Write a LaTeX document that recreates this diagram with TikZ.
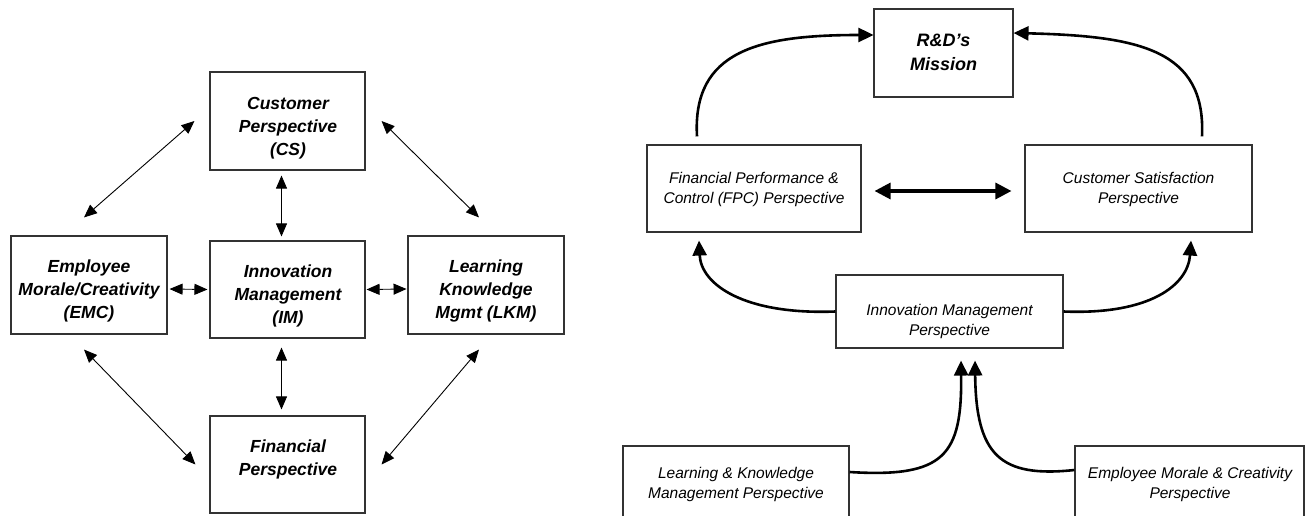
\documentclass[tikz,border=0pt]{standalone}
\usepackage{fontspec}
\setmainfont{Liberation Sans}
\usetikzlibrary{arrows.meta,calc}
\begin{document}
\begin{tikzpicture}[x=1pt,y=-1pt,
  box/.style={draw=black!80, line width=1.1pt, inner sep=0pt},
  ltxt/.style={font=\bfseries\itshape\fontsize{17.5}{23}\selectfont, align=center, inner sep=0pt, anchor=north},
  rtxt/.style={font=\itshape\fontsize{15.5}{20}\selectfont, align=center, inner sep=0pt, anchor=north},
  mtxt/.style={font=\bfseries\itshape\fontsize{18}{24}\selectfont, align=center, inner sep=0pt, anchor=north},
  larr/.style={line width=0.9pt, {Triangle[length=13pt,width=11pt]}-{Triangle[length=13pt,width=11pt]}},
  rarr/.style={line width=2.6pt, -{Triangle[length=15pt,width=14pt]}},
  rdbl/.style={line width=3.2pt, {Triangle[length=16pt,width=16pt]}-{Triangle[length=16pt,width=16pt]}},
]
\useasboundingbox (0,0) rectangle (1308,516);

% ---------- left diagram ----------
\node[box, minimum width=155pt, minimum height=98pt] (cs)  at (287.5,121) {};
\node[box, minimum width=156pt, minimum height=98pt] (emc) at (89,285) {};
\node[box, minimum width=155pt, minimum height=97pt] (im)  at (287.5,289.5) {};
\node[box, minimum width=156pt, minimum height=98pt] (lkm) at (486,285) {};
\node[box, minimum width=155pt, minimum height=97pt] (fin) at (287.5,464.5) {};

\node[ltxt] (cst)  at (288,97)  {Customer\\Perspective\\(CS)};
\node[ltxt] (emct) at (89,260)  {Employee\\Morale/Creativity\\(EMC)};
\node[ltxt] (imt)  at (288,265) {Innovation\\Management\\(IM)};
\node[ltxt] (lkmt) at (486,260) {Learning\\Knowledge\\Mgmt (LKM)};
\node[ltxt] (fint) at (288,440) {Financial\\Perspective};

\draw[larr] ($(cs.south)+(-6,5)$) -- ($(im.north)+(-6,-4)$);
\draw[larr] ($(im.south)+(-6,9)$) -- ($(fin.north)+(-6,-6)$);
\draw[larr] ($(emc.east)+(2,4)$) -- ($(im.west)+(-2,0)$);
\draw[larr] ($(im.east)+(1,0)$) -- ($(lkm.east)+(-158,4)$);
\draw[larr] ($(cs.west)+(-15,0)$) -- ($(emc.north)+(-5,-18)$);
\draw[larr] ($(cs.east)+(16,0)$) -- ($(lkm.north)+(-7,-18)$);
\draw[larr] ($(emc.south)+(-5,15)$) -- ($(fin.west)+(-14,0)$);
\draw[larr] ($(lkm.south)+(-7,15)$) -- ($(fin.east)+(16,0)$);

% ---------- right diagram ----------
\node[box, minimum width=139pt, minimum height=88pt] (rd)   at (943.5,53) {};
\node[box, minimum width=214pt, minimum height=87pt] (fpc)  at (754,188.5) {};
\node[box, minimum width=227pt, minimum height=87pt] (csp)  at (1138.5,188.5) {};
\node[box, minimum width=227pt, minimum height=73pt] (imp)  at (949.5,311.5) {};
\node[box, minimum width=226pt, minimum height=84pt] (lkmb) at (736,488) {};
\node[box, minimum width=229pt, minimum height=84pt] (emcb) at (1189.5,488) {};

\node[mtxt] (rdt)   at (943.5,34) {R\&D’s\\Mission};
\node[rtxt] (fpct)  at (754,172)  {Financial Performance \&\\Control (FPC) Perspective};
\node[rtxt] (cspt)  at (1138.5,172) {Customer Satisfaction\\Perspective};
\node[rtxt] (impt)  at (949.5,304) {Innovation Management\\Perspective};
\node[rtxt] (lkmbt) at (736,467)  {Learning \& Knowledge\\Management Perspective};
\node[rtxt] (emcbt) at (1190,467) {Employee Morale \& Creativity\\Perspective};

\coordinate (f1) at ($(fpc.north)+(-57,-8)$);
\coordinate (c1) at ($(csp.north)+(63.5,-8)$);
\coordinate (f2) at ($(fpc.south)+(-55,8)$);
\coordinate (c2) at ($(csp.south)+(52.5,8)$);
\coordinate (i1) at ($(imp.south)+(11.5,12)$);
\coordinate (i2) at ($(imp.south)+(25.5,12)$);

\draw[rarr] (f1) .. controls (692,50) and (760,35) .. ($(rd.west)+(0,-18)$);
\draw[rarr] (c1) .. controls (1206,50) and (1140,36) .. ($(rd.east)+(0,-20)$);
\draw[rarr] (imp.west) .. controls (745,315) and (701,285) .. (f2);
\draw[rarr] (imp.east) .. controls (1150,315) and (1188,285) .. (c2);
\draw[rarr] ($(lkmb.east)+(0,-16)$) .. controls (945,478) and (962,455) .. (i1);
\draw[rarr] ($(emcb.west)+(0,-18)$) .. controls (1000,478) and (976,455) .. (i2);
\draw[rdbl] ($(fpc.east)+(13,2.5)$) -- ($(csp.west)+(-13,2.5)$);
\end{tikzpicture}
\end{document}
